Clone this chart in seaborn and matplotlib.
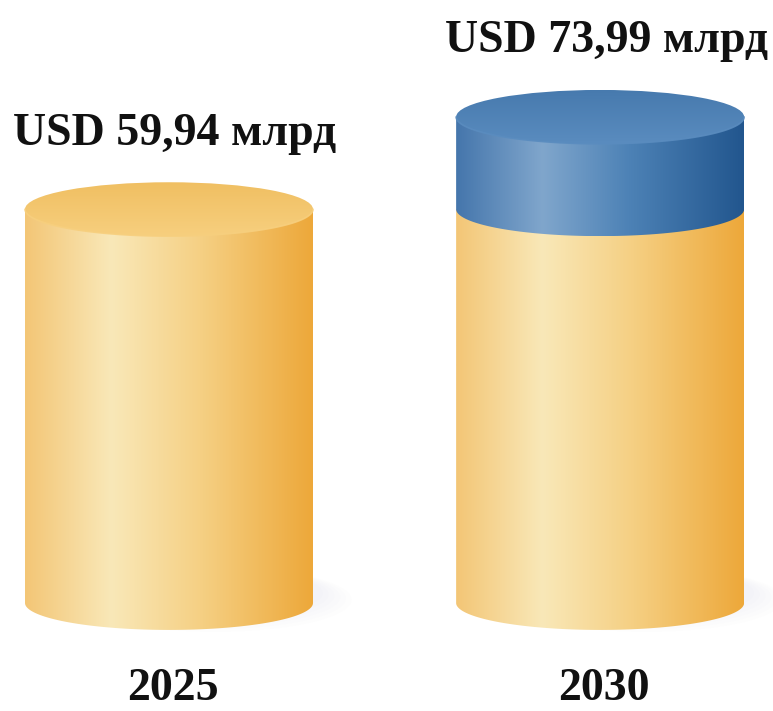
import numpy as np
import pandas as pd
import matplotlib
matplotlib.use("Agg")
import matplotlib.pyplot as plt
import seaborn as sns
from matplotlib.patches import Ellipse, Polygon
from matplotlib.colors import LinearSegmentedColormap

# Market size, USD bn
years = ["2025", "2030"]
market_size = [59.94, 73.99]
base_level = [59.94, 59.94]          # 2025 level, shown as the yellow part
value_labels = ["USD 59,94 млрд", "USD 73,99 млрд"]

sns.set_theme(style="white")
plt.rcParams["font.family"] = ["Liberation Serif", "DejaVu Serif"]

fig = plt.figure(figsize=(7.73, 7.11), dpi=100)
ax = fig.add_axes([0, 0, 1, 1])

df = pd.DataFrame({"year": years, "total": market_size, "base": base_level})
sns.barplot(data=df, x="year", y="total", color="#4a7fb5", width=0.668,
            saturation=1, ax=ax)
sns.barplot(data=df, x="year", y="base", color="#f5c86e", width=0.668,
            saturation=1, ax=ax)

ax.set_xlim(-0.392, 1.401)
ax.set_ylim(-16.44, 91.78)
ax.axis("off")

ELL_H = 4.1  # half-height of the cylinder ellipses, data units

yellow_body = LinearSegmentedColormap.from_list(
    "yb", [(0, "#f3c676"), (0.3, "#f9e8b8"), (0.62, "#f5cf82"), (1.0, "#eda83a")])
blue_body = LinearSegmentedColormap.from_list(
    "bb", [(0, "#4576ac"), (0.3, "#80a6cc"), (0.6, "#4d82b6"), (1.0, "#22568e")])
yellow_top = LinearSegmentedColormap.from_list("yt", ["#f7cf7e", "#f0bf62"])
blue_top = LinearSegmentedColormap.from_list("bt", ["#5a8cbf", "#477aae"])


def body(cx, w, y0, y1, cmap, z):
    th = np.linspace(0, -np.pi, 120)
    pts = np.column_stack([cx + w / 2 * np.cos(th), y0 + ELL_H * np.sin(th)])
    pts = np.vstack([pts, [[cx - w / 2, y1], [cx + w / 2, y1]]])
    poly = Polygon(pts, closed=True, facecolor="none", edgecolor="none")
    ax.add_patch(poly)
    grad = np.linspace(0, 1, 256)[None, :]
    im = ax.imshow(grad, cmap=cmap, aspect="auto", interpolation="bilinear",
                   extent=[cx - w / 2, cx + w / 2, y0 - ELL_H, y1],
                   origin="lower", zorder=z)
    im.set_clip_path(poly)


def top(cx, w, y, cmap, z):
    ell = Ellipse((cx, y), w, 2 * ELL_H, facecolor="none", edgecolor="none")
    ax.add_patch(ell)
    grad = np.linspace(0, 1, 256)[:, None]
    im = ax.imshow(grad, cmap=cmap, aspect="auto", interpolation="bilinear",
                   extent=[cx - w / 2, cx + w / 2, y - ELL_H, y + ELL_H],
                   origin="lower", zorder=z)
    im.set_clip_path(ell)
    th = np.linspace(0, -np.pi, 120)
    rim = cmap(0.0)
    ax.plot(cx + w / 2 * np.cos(th), y + ELL_H * np.sin(th),
            color=rim, lw=1.2, alpha=0.9, zorder=z + 0.1)


n = len(years)
total_bars = ax.patches[:n]
base_bars = ax.patches[n:2 * n]
for i in range(n):
    tb, bb = total_bars[i], base_bars[i]
    w = tb.get_width()
    cx = tb.get_x() + w / 2
    total = tb.get_height()
    base = bb.get_height()
    tb.set_visible(False)
    bb.set_visible(False)

    # faint shadow at the foot of the cylinder, cast to the right
    for k in range(6):
        ax.add_patch(Ellipse((cx + w * 0.16, 0.5 + 0.2 * k), w * (0.95 - 0.04 * k),
                             2 * ELL_H * (1.2 - 0.06 * k), facecolor="#8a96a8",
                             edgecolor="none", alpha=0.012, zorder=1))

    body(cx, w, 0, base, yellow_body, 2)
    if total > base:
        body(cx, w, base, total, blue_body, 3)
        top(cx, w, total, blue_top, 4)
    else:
        top(cx, w, base, yellow_top, 4)

    ax.text(cx + 0.014, total + 9.8, value_labels[i], ha="center", va="baseline",
            fontsize=33, fontweight="bold", color="#111111", zorder=6)
    ax.text(cx + 0.008, -14.7, years[i], ha="center", va="baseline",
            fontsize=33, fontweight="bold", color="#111111", zorder=6)

fig.savefig("out.png", dpi=100)
